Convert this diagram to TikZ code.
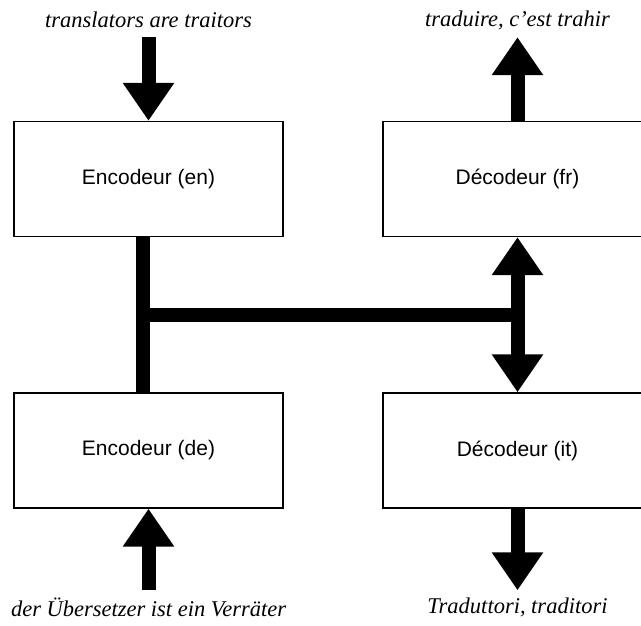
\documentclass[tikz,border=0pt]{standalone}
\usepackage{fontspec}
\setmainfont{Liberation Serif}
\setsansfont{Liberation Sans}
\usetikzlibrary{arrows.meta,
                calc,
                positioning}

\begin{document}
\begin{tikzpicture}[
node distance = 271.5pt and 369pt, on grid,
box/.style = {draw, line width=1.4pt, minimum width=269pt, minimum height=115pt,
              inner sep=0pt, font=\sffamily\fontsize{21}{25}\selectfont},
phrase/.style = {minimum height=34pt, inner sep=0pt,
                 font=\itshape\fontsize{22.5}{26}\selectfont},
bus/.style = {line width=14pt},
fat/.style = {line width=14pt, >={Triangle[length=38pt, width=49pt]}}
                        ]
		    \clip (0pt,0pt) rectangle (641pt,-626pt);
		    \node[box] (encen) at (148.5pt,-179pt) {Encodeur (en)};
		    \node[box] (decfr)[right=of encen] {Décodeur (fr)};
		    \node[box] (encde)[below=of encen] {Encodeur (de)};
		    \node[box] (decit)[right=of encde] {Décodeur (it)};

		    \node[phrase] (en)[above=159pt of encen] {translators are traitors};
		    \node[phrase] (fr)[above=159pt of decfr] {traduire, c’est trahir};
		    \node[phrase] (de)[below=157pt of encde] {der Übersetzer ist ein Verräter};
		    \node[phrase] (it)[below=157pt of decit] {Traduttori, traditori};

		    \coordinate (mid) at ($([xshift=-6pt]encen.south)!0.5!([xshift=-6pt]encde.north)$);

		    \draw[fat,->] (en) -- (encen);
		    \draw[fat,->] (decfr) -- (fr);
		    \draw[fat,->] (de) -- (encde);
		    \draw[fat,->] (decit) -- (it);
		    \draw[fat,<->] (decfr) -- (decit);
		    \draw[bus] ([xshift=-6pt]encen.south) -- ([xshift=-6pt]encde.north)
		    		(mid) -- (mid -| decfr.south);
	    \end{tikzpicture}
\end{document}
